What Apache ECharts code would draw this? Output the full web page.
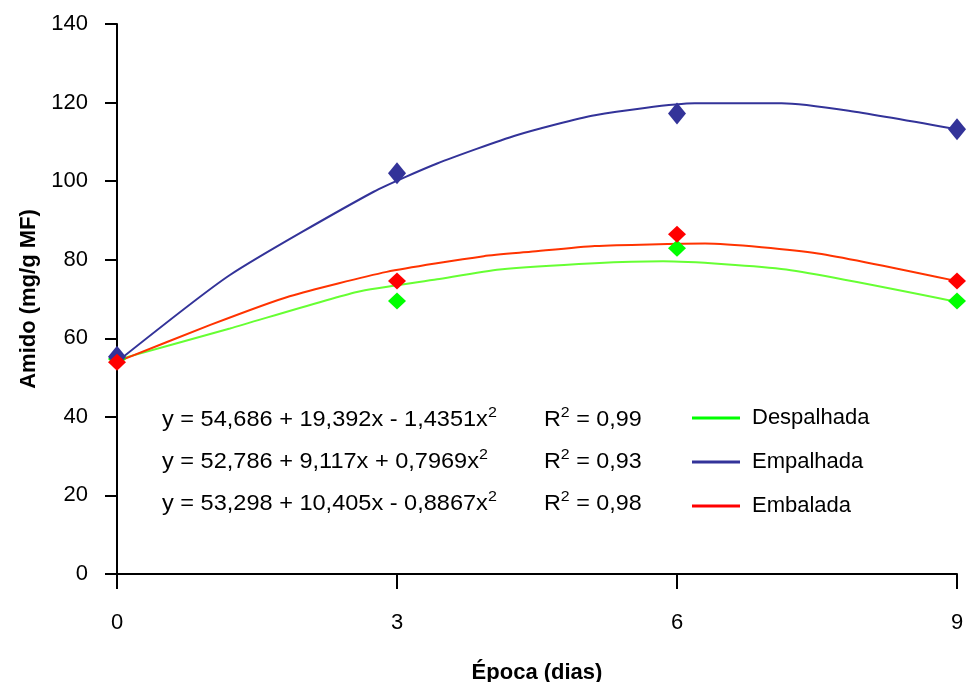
<!DOCTYPE html>
<html><head><meta charset="utf-8">
<script src="https://cdn.jsdelivr.net/npm/echarts@6/dist/echarts.min.js"></script>
<style>html,body{margin:0;padding:0;background:#fff}#c{width:966px;height:682px}</style>
</head><body><div id="c"></div>
<script>
// Observed points (x = day, y = starch)
var days = [0, 3, 6, 9];
var despalhadaPts = [54.7, 69.5, 82.9, 69.5];
var empalhadaPts = [55.3, 102.0, 117.2, 113.2];
var embaladaPts = [53.9, 74.6, 86.5, 74.6];

// Fitted curves: [x, y]
var despalhadaCurve = [[0, 54.5], [1.21, 62.5], [2.57, 71.8], [3.43, 75.0], [4.1, 77.5], [5.12, 79.1], [5.85, 79.6], [7.17, 77.5], [8.95, 69.5]];
var empalhadaCurve = [[0, 54.0], [1.21, 76.1], [2.75, 97.3], [3.43, 104.5], [4.28, 111.7], [5.12, 116.8], [6.19, 119.8], [7.12, 119.8], [7.84, 117.9], [8.95, 113.4]];
var embaladaCurve = [[0, 54.0], [1.0, 63.4], [1.85, 70.7], [2.89, 76.9], [3.93, 80.9], [4.43, 82.0], [5.12, 83.5], [6.3, 84.1], [7.51, 81.6], [8.95, 74.8]];

var seriesNames = ['Despalhada', 'Empalhada', 'Embalada'];
var equations = [['y = 54,686 + 19,392x - 1,4351x', 'R', ' = 0,99'],
                 ['y = 52,786 + 9,117x + 0,7969x', 'R', ' = 0,93'],
                 ['y = 53,298 + 10,405x - 0,8867x', 'R', ' = 0,98']];
var xTicks = [0, 3, 6, 9];

var FONT = 'Liberation Sans, Arial, sans-serif';
var FS = 22;
var lineColors = ['#66FF33', '#333399', '#FF3300'];
var legendColors = ['#00FF00', '#333399', '#FF0000'];
var pointColors = ['#00FF00', '#333399', '#FF0000'];
var curves = [despalhadaCurve, empalhadaCurve, embaladaCurve];
var pts = [despalhadaPts, empalhadaPts, embaladaPts];
var sizes = [[18, 17], [18, 22], [18, 17]];

var series = [];
for (var i = 0; i < 3; i++) {
  series.push({
    name: seriesNames[i], type: 'line', data: curves[i], showSymbol: false, symbol: 'none',
    smooth: 0.2, lineStyle: { color: lineColors[i], width: 2 }, itemStyle: { color: legendColors[i] },
    z: 2, silent: true
  });
}
for (var j = 0; j < 3; j++) {
  series.push({
    name: seriesNames[j] + ' pts', type: 'scatter', symbol: 'diamond', symbolSize: sizes[j],
    data: days.map(function (d, k) { return [d, pts[j][k]]; }),
    itemStyle: { color: pointColors[j], opacity: 1 }, z: 3 + j, silent: true
  });
}

var graphics = [];
var rowY = [418, 460, 502];
var rich = {
  m: { fontSize: FS, fontFamily: FONT, fill: '#000', lineHeight: 26, verticalAlign: 'bottom' },
  s: { fontSize: 15, fontFamily: FONT, fill: '#000', lineHeight: 26, verticalAlign: 'top' }
};
for (var r = 0; r < 3; r++) {
  graphics.push({
    type: 'text', left: 162, top: rowY[r] - 13, scaleX: 1.07,
    style: { text: '{m|' + equations[r][0] + '}{s|2}', rich: rich }
  });
  graphics.push({
    type: 'text', left: 544, top: rowY[r] - 13, scaleX: 1.06,
    style: { text: '{m|' + equations[r][1] + '}{s|2}{m|' + equations[r][2] + '}', rich: rich }
  });
}

var chart = echarts.init(document.getElementById('c'));
chart.setOption({
  backgroundColor: '#fff',
  animation: false,
  grid: { left: 117, right: 9, top: 24, bottom: 108, containLabel: false, outerBoundsMode: 'none' },
  legend: {
    data: seriesNames, orient: 'vertical', left: 692, top: 407, padding: 0,
    icon: 'rect', itemWidth: 48, itemHeight: 3, itemGap: 22,
    textStyle: { fontSize: FS, fontFamily: FONT, color: '#000', padding: [0, 0, 0, 7] },
    selectedMode: false
  },
  xAxis: {
    type: 'value', min: 0, max: 9, interval: 3,
    name: 'Época (dias)', nameLocation: 'middle', nameGap: 88,
    nameTextStyle: { fontSize: FS, fontWeight: 'bold', fontFamily: FONT, color: '#000' },
    axisLine: { show: true, lineStyle: { color: '#000', width: 2 } },
    axisTick: { show: true, inside: false, length: 15, lineStyle: { color: '#000', width: 2 } },
    axisLabel: { margin: 38, fontSize: FS, fontFamily: FONT, color: '#000',
      formatter: function (v) { return xTicks.indexOf(v) >= 0 ? String(v) : ''; } },
    splitLine: { show: false }
  },
  yAxis: {
    type: 'value', min: 0, max: 140, interval: 20,
    name: 'Amido (mg/g MF)', nameLocation: 'middle', nameGap: 73, nameRotate: 90,
    nameTextStyle: { fontSize: FS, fontWeight: 'bold', fontFamily: FONT, color: '#000' },
    axisLine: { show: true, lineStyle: { color: '#000', width: 2 } },
    axisTick: { show: true, inside: false, length: 12, lineStyle: { color: '#000', width: 2 } },
    axisLabel: { margin: 29, fontSize: FS, fontFamily: FONT, color: '#000' },
    splitLine: { show: false }
  },
  series: series,
  graphic: graphics
});
</script></body></html>
